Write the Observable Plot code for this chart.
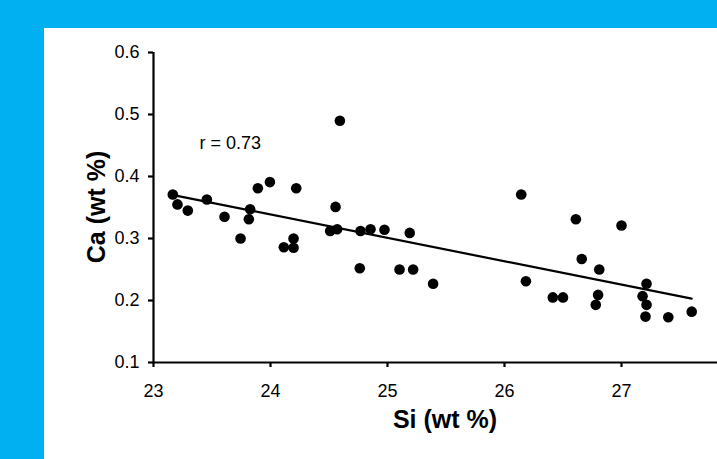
<!DOCTYPE html>
<html><head><meta charset="utf-8">
<script src="https://cdn.jsdelivr.net/npm/d3@7"></script>
<script src="https://cdn.jsdelivr.net/npm/@observablehq/plot@0.6"></script>
<style>
html,body{margin:0;padding:0;width:717px;height:459px;overflow:hidden;background:#00B0F0;}
#panel{position:absolute;left:44px;top:28px;width:720px;height:460px;background:#fff;}
#chart{position:absolute;left:0;top:0;width:760px;height:459px;}
#chart svg{max-width:none !important;}
</style></head><body><div id="panel"></div><div id="chart"></div>
<script>
// Samples: Si (wt %) and Ca (wt %)
const si = [23.165, 23.205, 23.293, 23.456, 23.607, 23.744, 23.815, 23.826, 23.892, 23.995,
            24.114, 24.197, 24.197, 24.220, 24.593, 24.556, 24.510, 24.570, 24.763, 24.769,
            24.855, 24.974, 25.103, 25.219, 25.190, 25.390, 26.143, 26.183, 26.413, 26.500,
            26.610, 26.660, 26.810, 26.800, 26.780, 27.000, 27.214, 27.180, 27.214, 27.205,
            27.400, 27.600];
const ca = [0.371, 0.355, 0.345, 0.363, 0.335, 0.300, 0.331, 0.347, 0.381, 0.391,
            0.286, 0.285, 0.300, 0.381, 0.490, 0.351, 0.312, 0.315, 0.252, 0.312,
            0.315, 0.314, 0.250, 0.250, 0.309, 0.227, 0.371, 0.231, 0.205, 0.205,
            0.331, 0.267, 0.250, 0.209, 0.193, 0.321, 0.227, 0.207, 0.193, 0.174,
            0.173, 0.182];
// Fitted trend line
const fitSi = [23.17, 27.60];
const fitCa = [0.370, 0.203];
// Axis ticks
const xTicks = [23, 24, 25, 26, 27];
const yTicks = [0.1, 0.2, 0.3, 0.4, 0.5, 0.6];
const xLabel = "Si (wt %)";
const yLabel = "Ca (wt %)";
const noteText = "r = 0.73";
const noteSi = 23.393, noteCa = 0.445;

const points = si.map((x, i) => ({si: x, ca: ca[i]}));
const fit = fitSi.map((x, i) => ({si: x, ca: fitCa[i]}));

const W = 760, H = 459;
const font = "'Liberation Sans', Arial, Helvetica, sans-serif";
const plot = Plot.plot({
  width: W, height: H,
  marginLeft: 153, marginRight: 22, marginTop: 52, marginBottom: 97,
  style: {background: "transparent", fontFamily: font, fontSize: "18px", color: "#000", overflow: "visible", maxWidth: "none"},
  x: {domain: [23, 28], label: null},
  y: {domain: [0.1, 0.6], label: null},
  marks: [
    Plot.axisX({ticks: xTicks, tickSize: 5, tickPadding: 17, strokeWidth: 2.2, fontSize: 18, label: null, tickFormat: d3.format("d")}),
    Plot.axisY({ticks: yTicks, tickSize: 5, tickPadding: 9, strokeWidth: 2.2, fontSize: 18, label: null, tickFormat: d3.format(".1f")}),
    Plot.ruleY([0.1], {stroke: "#000", strokeWidth: 2.2}),
    Plot.ruleX([23], {y1: 0.1, y2: 0.6, stroke: "#000", strokeWidth: 2.2}),
    Plot.line(fit, {x: "si", y: "ca", stroke: "#000", strokeWidth: 2.2}),
    Plot.dot(points, {x: "si", y: "ca", r: 5.3, fill: "#000", stroke: "none"}),
    Plot.text([noteText], {x: noteSi, y: noteCa, text: d => d, textAnchor: "start", lineAnchor: "bottom", fontSize: 18, fill: "#000"})
  ]
});
plot.style.maxWidth = "none";
plot.style.width = W + "px";
plot.style.height = H + "px";
const svg = d3.select(plot);
svg.append("text").attr("x", 445).attr("y", 428).attr("text-anchor", "middle")
  .attr("font-size", 25).attr("font-weight", "bold").attr("font-family", font).attr("fill", "#000").text(xLabel);
svg.append("text").attr("transform", "translate(105,207) rotate(-90)").attr("text-anchor", "middle")
  .attr("font-size", 25).attr("font-weight", "bold").attr("font-family", font).attr("fill", "#000").text(yLabel);
document.getElementById("chart").appendChild(plot);
</script></body></html>
